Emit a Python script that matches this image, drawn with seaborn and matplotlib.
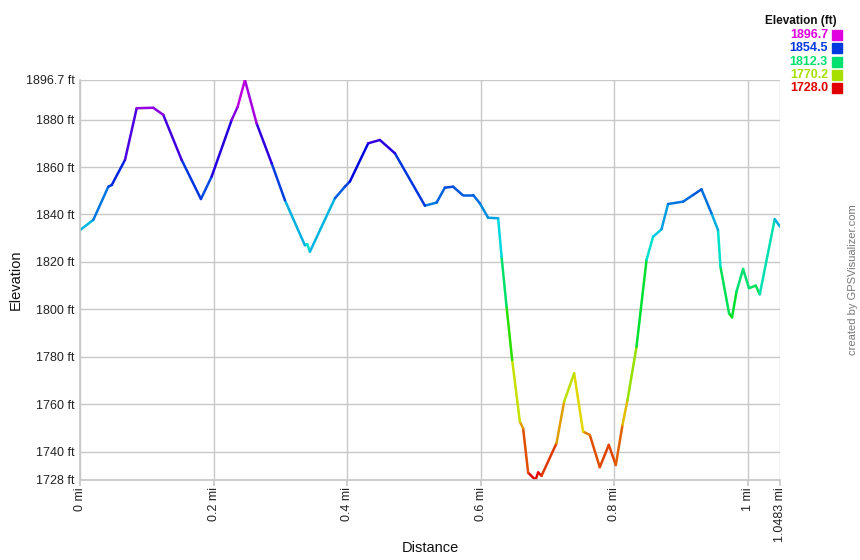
import numpy as np
import pandas as pd
import matplotlib
matplotlib.use("Agg")
import matplotlib.pyplot as plt
import matplotlib.colors as mcolors
import seaborn as sns

# Elevation profile
distance_mi = [0.000, 0.0199, 0.0424, 0.0475, 0.0674, 0.0849, 0.1097, 0.1247, 0.1522, 0.1811,
               0.1972, 0.2271, 0.2361, 0.2470, 0.2645, 0.2870, 0.3069, 0.3368, 0.3403, 0.3443,
               0.3817, 0.3967, 0.4042, 0.4316, 0.4491, 0.4716, 0.5165, 0.5340, 0.5464, 0.5588,
               0.5729, 0.5888, 0.5988, 0.6112, 0.6262, 0.6313, 0.6388, 0.6472, 0.6587, 0.6636,
               0.6711, 0.6822, 0.6861, 0.6912, 0.7136, 0.7250, 0.7400, 0.7534, 0.7635, 0.7784,
               0.7919, 0.8024, 0.8124, 0.8199, 0.8334, 0.8484, 0.8582, 0.8708, 0.8807, 0.9031,
               0.9181, 0.9307, 0.9457, 0.9555, 0.9591, 0.9720, 0.9765, 0.9831, 0.9930, 1.0019,
               1.0120, 1.0180, 1.0404, 1.0483]
elevation_ft = [1833.4, 1837.7, 1851.7, 1852.4, 1863.0, 1884.8, 1885.0, 1882.0, 1863.0, 1846.5,
                1856.0, 1879.8, 1885.4, 1896.7, 1878.4, 1861.6, 1846.0, 1827.0, 1827.5, 1824.3,
                1846.8, 1851.7, 1853.9, 1870.0, 1871.4, 1865.8, 1843.7, 1845.0, 1851.3, 1851.7,
                1848.2, 1848.2, 1844.7, 1838.6, 1838.4, 1822.2, 1801.1, 1778.6, 1752.6, 1749.8,
                1731.1, 1728.0, 1731.2, 1729.8, 1743.5, 1761.0, 1773.0, 1748.4, 1747.0, 1733.4,
                1742.8, 1734.3, 1751.2, 1761.7, 1784.2, 1820.8, 1830.6, 1833.7, 1844.4, 1845.4,
                1848.2, 1850.6, 1840.5, 1833.4, 1818.0, 1798.3, 1796.6, 1807.4, 1817.0, 1808.9,
                1810.0, 1806.3, 1838.0, 1834.9]

y_ticks = [1728, 1740, 1760, 1780, 1800, 1820, 1840, 1860, 1880, 1896.7]
x_ticks = [0, 0.2, 0.4, 0.6, 0.8, 1, 1.0483]
legend_values = [1896.7, 1854.5, 1812.3, 1770.2, 1728.0]

e_min, e_max = 1728.0, 1896.7

# hue runs red -> yellow -> green -> blue -> magenta with elevation
hsv = np.zeros((256, 3))
hsv[:, 0] = np.linspace(0, 300 / 360, 256)
hsv[:, 1] = 1.0
hsv[:, 2] = 0.88
elev_cmap = mcolors.ListedColormap(mcolors.hsv_to_rgb(hsv))
norm = mcolors.Normalize(e_min, e_max)

# one short segment per pair of points so each gets its own colour
rows = []
for i in range(len(distance_mi) - 1):
    mid = (elevation_ft[i] + elevation_ft[i + 1]) / 2
    for j in (i, i + 1):
        rows.append({"seg": i, "Distance": distance_mi[j], "Elevation": elevation_ft[j], "level": mid})
df = pd.DataFrame(rows)

sns.set_theme(style="whitegrid")
plt.rcParams["font.family"] = ["Liberation Sans", "DejaVu Sans"]

fig = plt.figure(figsize=(8.6, 5.6), dpi=100)
ax = fig.add_axes([80 / 860, 80 / 560, 700 / 860, 400 / 560])

sns.lineplot(data=df, x="Distance", y="Elevation", units="seg", hue="level",
             palette=elev_cmap, hue_norm=norm, estimator=None, legend=False,
             linewidth=1.8, ax=ax)

ax.set_xlim(0, 1.0483)
ax.set_ylim(e_min, e_max)
ax.set_yticks(y_ticks)
ax.set_yticklabels([f"{v:g} ft" for v in y_ticks])
ax.set_xticks(x_ticks)
ax.set_xticklabels([f"{v:g} mi" for v in x_ticks], rotation=90)
ax.grid(True, color="#c8c8c8", linewidth=1)
ax.tick_params(axis="y", length=0, pad=4, labelsize=9, labelcolor="#222222")
ax.tick_params(axis="x", length=4, color="#c8c8c8", direction="out", bottom=True,
               pad=1, labelsize=9, labelcolor="#222222")
for side in ["left", "bottom"]:
    ax.spines[side].set_color("#c8c8c8")
ax.spines["top"].set_visible(False)
ax.spines["right"].set_visible(False)
ax.set_facecolor("white")

ax.set_xlabel("Distance", fontsize=10.5, color="#111111")
ax.set_ylabel("Elevation", fontsize=10.5, color="#111111")
ax.xaxis.set_label_coords(0.5, -0.152)
ax.yaxis.set_label_coords(-0.082, 0.5)

# colour key in the top right corner
fig.text(837 / 860, 1 - 21 / 560, "Elevation (ft)", ha="right", va="center",
         fontsize=8.5, fontweight="bold", color="#111111")
for k, v in enumerate(legend_values):
    yk = 1 - (35 + k * 13.3) / 560
    c = elev_cmap(norm(v))
    fig.text(828 / 860, yk, f"{v:.1f}", ha="right", va="center",
             fontsize=9, fontweight="bold", color=c)
    fig.patches.append(plt.Rectangle((832 / 860, yk - 5 / 560), 10 / 860, 10 / 560,
                                     transform=fig.transFigure, color=c, figure=fig))

fig.text(853 / 860, 280 / 560, "created by GPSVisualizer.com", rotation=90,
         ha="center", va="center", fontsize=8, color="#777777")

fig.savefig("out.png", dpi=100, facecolor="white")
